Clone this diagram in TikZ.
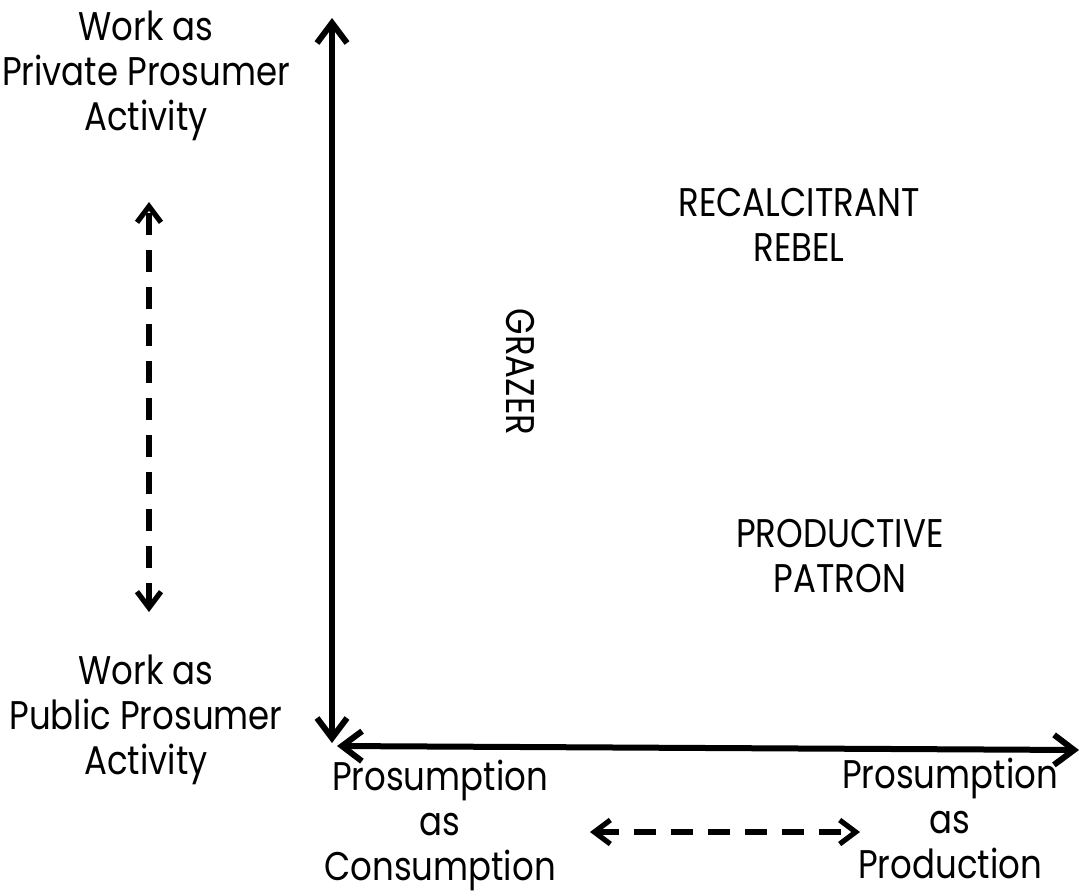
\documentclass[tikz,border=0pt]{standalone}
\usepackage{fontspec}
\setmainfont[FakeStretch=0.85]{Poppins}
\usepackage{tikz}
\usetikzlibrary{arrows.meta}

\begin{document}
\begin{tikzpicture}[x=0.5pt, y=-0.5pt,
        lbl/.style={align=center, inner sep=0pt, font=\fontsize{20}{22.5}\selectfont},
        axis/.style={{Straight Barb[length=10pt,width=15pt]}-{Straight Barb[length=10pt,width=15pt]}, line width=3pt},
        dasharrow/.style={{Straight Barb[length=8pt,width=12pt]}-{Straight Barb[length=8pt,width=12pt]}, line width=2.6pt, dash pattern=on 11pt off 7.5pt}]
    \useasboundingbox (0,0) rectangle (1081,895);

        % Define the axes
        \coordinate (ytop) at (332,18);
        \coordinate (ybot) at (332,743);
        \coordinate (xleft) at (337,746);
        \coordinate (xright) at (1079,750);

        % Define the labels
        \node[lbl] (private) at (146,76) {Work as\\Private Prosumer\\Activity};
        \node[lbl] (public) at (146,720) {Work as\\Public Prosumer\\Activity};
        \node[lbl] (consumption) at (440,825) {Prosumption\\as\\Consumption};
        \node[lbl] (production) at (950,818) {Prosumption\\as\\Production};
        \node[lbl] (rebel) at (799,225) {RECALCITRANT\\REBEL};
        \node[lbl, rotate=-90] (grazer) at (520,372) {GRAZER};
        \node[lbl] (patron) at (840,556) {PRODUCTIVE\\PATRON};

        \coordinate (dtop) at (149,202);
        \coordinate (dbot) at (149,612);
        \coordinate (dleft) at (590,832);
        \coordinate (dright) at (860,832);

        % Draw the arrows
        \draw[axis] (ybot) -- (ytop);
        \draw[axis] (xleft) -- (xright);
        \draw[dasharrow] (dbot) -- (dtop);
        \draw[dasharrow] (dleft) -- (dright);

\end{tikzpicture}
\end{document}
